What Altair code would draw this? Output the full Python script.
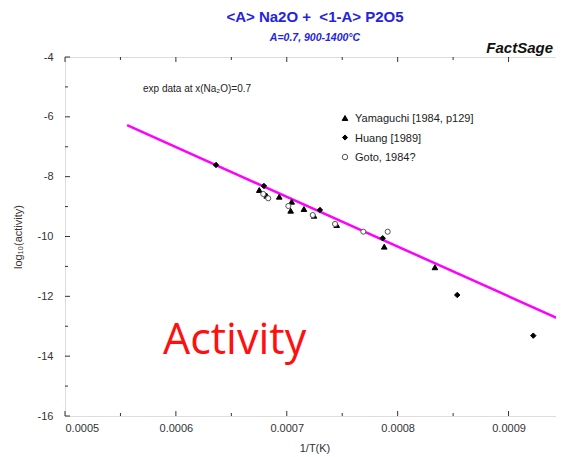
import altair as alt
import pandas as pd

# ---- data ----
yam_x = [0.0006752, 0.0006819, 0.0006932, 0.0007044, 0.0007035, 0.0007155, 0.0007245, 0.0007450, 0.0007879, 0.0008336]
yam_y = [-8.445, -8.636, -8.669, -8.836, -9.137, -9.080, -9.304, -9.615, -10.340, -11.029]
hua_x = [0.0006362, 0.0006794, 0.0007299, 0.0007865, 0.0008537, 0.0009223]
hua_y = [-7.610, -8.311, -9.114, -10.060, -11.955, -13.315]
got_x = [0.0006788, 0.0006833, 0.0007014, 0.0007234, 0.0007435, 0.0007690, 0.0007910]
got_y = [-8.579, -8.723, -8.980, -9.281, -9.581, -9.839, -9.839]
series_names = ["Yamaguchi [1984, p129]", "Huang [1989]", "Goto, 1984?"]

line_x = [0.000556, 0.00095]
line_y = [-6.28, -12.83]

x_major = [0.0005, 0.0006, 0.0007, 0.0008, 0.0009]
x_minor = [0.00055, 0.00065, 0.00075, 0.00085]
y_major = [-16, -14, -12, -10, -8, -6, -4]
y_minor = [-15, -13, -11, -9, -7, -5]

W, H = 499, 359
FONT = "Liberation Sans"

shapes = ["triangle-up", "diamond", "circle"]
fills = ["black", "black", "white"]
strokes = ["black", "black", "#555"]
sizes = [32, 26, 30]

pts = pd.DataFrame({
    "x": yam_x + hua_x + got_x,
    "y": yam_y + hua_y + got_y,
    "s": [series_names[0]] * len(yam_x) + [series_names[1]] * len(hua_x) + [series_names[2]] * len(got_x),
})
line_df = pd.DataFrame({"x": line_x, "y": line_y})

xs = alt.Scale(domain=[0.0005, 0.00095], nice=False, zero=False)
ys = alt.Scale(domain=[-16, -4], nice=False, zero=False)

base_x = alt.X("x:Q", scale=xs, title="1/T(K)",
               axis=alt.Axis(values=x_major, format=".4f", ticks=False, domain=False, grid=False,
                             labelFont=FONT, labelFontSize=11, labelColor="#333", labelPadding=6,
                             titleFont=FONT, titleFontSize=11, titleFontWeight="normal",
                             titleColor="#333", titlePadding=9))
base_y = alt.Y("y:Q", scale=ys, title="log₁₀(activity)",
               axis=alt.Axis(values=y_major, ticks=False, domain=False, grid=False,
                             labelExpr="'' + datum.value",
                             labelFont=FONT, labelFontSize=11, labelColor="#333", labelPadding=12,
                             titleFont=FONT, titleFontSize=11, titleFontWeight="normal",
                             titleColor="#333", titlePadding=14))

line = alt.Chart(line_df).mark_line(color="#FF00FF", strokeWidth=2.5).encode(x=base_x, y=base_y)

points = alt.Chart(pts).mark_point(filled=False, strokeWidth=1, opacity=1).encode(
    x=alt.X("x:Q", scale=xs),
    y=alt.Y("y:Q", scale=ys),
    shape=alt.Shape("s:N", scale=alt.Scale(domain=series_names, range=shapes), legend=None),
    fill=alt.Fill("s:N", scale=alt.Scale(domain=series_names, range=fills), legend=None),
    stroke=alt.Stroke("s:N", scale=alt.Scale(domain=series_names, range=strokes), legend=None),
    size=alt.Size("s:N", scale=alt.Scale(domain=series_names, range=sizes), legend=None),
)


def ticks(vals, orient, length):
    df = pd.DataFrame({"v": vals})
    c = alt.Chart(df).mark_rule(color="#333", strokeWidth=1)
    if orient == "bottom":
        return c.encode(x=alt.X("v:Q", scale=xs), y=alt.value(H), y2=alt.value(H - length))
    if orient == "top":
        return c.encode(x=alt.X("v:Q", scale=xs), y=alt.value(0), y2=alt.value(length))
    if orient == "left":
        return c.encode(y=alt.Y("v:Q", scale=ys), x=alt.value(0), x2=alt.value(length))
    return c.encode(y=alt.Y("v:Q", scale=ys), x=alt.value(W), x2=alt.value(W - length))


tick_layers = [
    ticks(x_major, "bottom", 5), ticks(x_minor, "bottom", 3),
    ticks(x_major, "top", 5), ticks(x_minor, "top", 3),
    ticks(y_major, "left", 5), ticks(y_minor, "left", 3),
    ticks(y_major, "right", 5), ticks(y_minor, "right", 3),
]

one = pd.DataFrame({"t": ["dummy"]})


def txt(text, x, y, size, color="#222", weight="normal", style="normal", font=FONT, align="left"):
    return alt.Chart(one).mark_text(
        text=text, fontSize=size, color=color, fontWeight=weight, fontStyle=style,
        font=font, align=align, baseline="alphabetic"
    ).encode(x=alt.value(x), y=alt.value(y))


# manual legend (inside plot, top right)
legend_layers = []
for i, name in enumerate(series_names):
    yy = 61 + i * 19.5
    legend_layers.append(
        alt.Chart(one).mark_point(shape=shapes[i], fill=fills[i], stroke=strokes[i], filled=False,
                                  size=sizes[i], strokeWidth=1, opacity=1)
        .encode(x=alt.value(280), y=alt.value(yy))
    )
    legend_layers.append(txt(name, 290, yy + 4, 11))

texts = [
    txt("<A> Na2O +\u00a0 <1-A> P2O5", 250, -35, 15, color="#2424E0", weight="bold", align="center"),
    txt("A=0.7, 900-1400°C", 250, -16, 10.5, color="#2424E0", weight="bold", style="italic", align="center"),
    txt("FactSage", 488, -4, 15, color="#111", weight="bold", style="italic", align="right"),
    txt("exp data at x(Na₂O)=0.7", 78, 35, 10),
    txt("Activity", 98, 297, 43, color="#FF1010", font="Open Sans"),
]

chart = alt.layer(line, points, *tick_layers, *legend_layers, *texts).properties(
    width=W, height=H,
    autosize=alt.AutoSizeParams(type="none"),
    padding={"left": 57, "top": 49, "right": -8, "bottom": 40},
).configure_view(stroke="#333", strokeWidth=1).configure(background="white")

chart.save("out.html", embed_options={"renderer": "svg", "actions": False})
